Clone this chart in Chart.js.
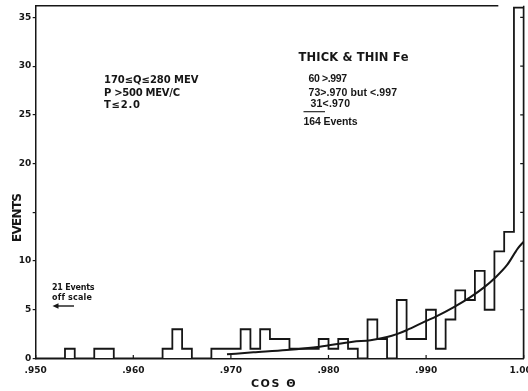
<!DOCTYPE html>
<html>
<head>
<meta charset="utf-8">
<script src="https://cdn.jsdelivr.net/npm/chart.js@4/dist/chart.umd.min.js"></script>
<style>
  html, body { margin: 0; padding: 0; background: #ffffff; }
  #wrap { width: 528px; height: 391px; }
</style>
</head>
<body>
<div id="wrap"><canvas id="c" width="528" height="391"></canvas></div>
<script>
// cos θ bins, width 0.001: lower edge of each bin and the events counted in it
const binLow = [
  0.950, 0.951, 0.952, 0.953, 0.954, 0.955, 0.956, 0.957, 0.958, 0.959,
  0.960, 0.961, 0.962, 0.963, 0.964, 0.965, 0.966, 0.967, 0.968, 0.969,
  0.970, 0.971, 0.972, 0.973, 0.974, 0.975, 0.976, 0.977, 0.978, 0.979,
  0.980, 0.981, 0.982, 0.983, 0.984, 0.985, 0.986, 0.987, 0.988, 0.989,
  0.990, 0.991, 0.992, 0.993, 0.994, 0.995, 0.996, 0.997, 0.998, 0.999
];
const counts = [
  0, 0, 0, 1, 0, 0, 1, 1, 0, 0,
  0, 0, 0, 1, 3, 1, 0, 0, 1, 1,
  1, 3, 1, 3, 2, 2, 1, 1, 1, 2,
  1, 2, 1, 0, 4, 2, 0, 6, 2, 2,
  5, 1, 4, 7, 6, 9, 5, 11, 13, 36
];
const binEnd = 1.000;

// expected distribution (smooth curve)
const fitX = [0.9696, 0.9723, 0.9757, 0.9791, 0.9825, 0.9843, 0.9860, 0.9870,
              0.9880, 0.9899, 0.9911, 0.9928, 0.9945, 0.9959, 0.9971, 0.9983,
              0.9994, 1.0000];
const fitY = [0.43, 0.63, 0.87, 1.21, 1.73, 1.88, 2.2, 2.5,
              2.9, 3.8, 4.35, 5.25, 6.27, 7.27, 8.32, 9.6,
              11.3, 12.0];

// axis ticks
const xTickValues = [0.95, 0.96, 0.97, 0.98, 0.99, 1.0];
const xTickLabels = ['.950', '.960', '.970', '.980', '.990', '1.000'];
const yTickValues = [0, 5, 10, 15, 20, 25, 30, 35];
const yTickLabels = ['0', '5', '10', '', '20', '25', '30', '35'];

const INK = '#161616';

const histPoints = binLow.map((x, i) => ({ x: x, y: counts[i] }));
histPoints.push({ x: binEnd, y: 0 });
const fitPoints = fitX.map((x, i) => ({ x: x, y: fitY[i] }));

// draws text so that it spans a given width, spreading the letters
function drawSpread(ctx, text, left, centerY, width, font) {
  ctx.save();
  ctx.font = font;
  ctx.fillStyle = INK;
  ctx.textBaseline = 'alphabetic';
  ctx.textAlign = 'left';
  const chars = Array.from(text);
  const widths = chars.map(ch => ctx.measureText(ch).width);
  const natural = widths.reduce((a, b) => a + b, 0);
  const gap = chars.length > 1 ? (width - natural) / (chars.length - 1) : 0;
  const cap = ctx.measureText('H').actualBoundingBoxAscent;
  const base = centerY + cap / 2;
  let x = left;
  chars.forEach((ch, i) => {
    ctx.fillText(ch, x, base);
    x += widths[i] + gap;
  });
  ctx.restore();
}

const decorations = {
  id: 'decorations',
  afterDraw(chart) {
    const { ctx, chartArea: a, scales: { x, y } } = chart;
    ctx.save();
    ctx.strokeStyle = INK;
    ctx.lineWidth = 1.5;
    ctx.lineCap = 'butt';

    // top and right frame lines
    ctx.beginPath();
    ctx.moveTo(a.left, a.top);
    ctx.lineTo(x.getPixelForValue(0.9974), a.top);
    ctx.moveTo(x.getPixelForValue(1.0), a.top);
    ctx.lineTo(x.getPixelForValue(1.0), a.bottom);
    ctx.stroke();

    // inward tick marks on the right frame and the bottom axis
    ctx.lineWidth = 1.2;
    ctx.beginPath();
    yTickValues.forEach(v => {
      if (v === 0) return;
      const py = y.getPixelForValue(v);
      ctx.moveTo(a.right - 3.5, py);
      ctx.lineTo(a.right, py);
    });
    xTickValues.forEach(v => {
      const px = x.getPixelForValue(v);
      ctx.moveTo(px, a.bottom);
      ctx.lineTo(px, a.bottom - 3.5);
    });
    ctx.stroke();

    // arrow pointing to the events below the scale
    ctx.lineWidth = 1.4;
    ctx.beginPath();
    ctx.moveTo(57, 306);
    ctx.lineTo(74, 306);
    ctx.stroke();
    ctx.fillStyle = INK;
    ctx.beginPath();
    ctx.moveTo(52.5, 306);
    ctx.lineTo(58.5, 303.2);
    ctx.lineTo(58.5, 308.8);
    ctx.closePath();
    ctx.fill();

    // underline of the last partial count
    ctx.lineWidth = 1.1;
    ctx.beginPath();
    ctx.moveTo(303.5, 111.7);
    ctx.lineTo(325, 111.7);
    ctx.stroke();
    ctx.restore();

    const right = "bold 10.5px 'Liberation Sans'";
    drawSpread(ctx, 'THICK & THIN Fe', 298.5, 56.2, 110, "bold 11.5px 'DejaVu Sans'");
    drawSpread(ctx, '60 >.997', 308.5, 78.3, 38.5, right);
    drawSpread(ctx, '73>.970 but <.997', 308.5, 91.7, 88.5, right);
    drawSpread(ctx, '31<.970', 310.5, 103.3, 39.5, right);
    drawSpread(ctx, '164 Events', 303.5, 120.7, 54, right);

    const left = "bold 10px 'DejaVu Sans'";
    drawSpread(ctx, '170≤Q≤280 MEV', 104, 79, 94.5, left);
    drawSpread(ctx, 'P >500 MEV/C', 104, 92.3, 76, left);
    drawSpread(ctx, 'T≤2.0', 104, 104.3, 36, left);

    drawSpread(ctx, '21 Events', 52, 286.7, 42.5, "bold 8px 'DejaVu Sans'");
    drawSpread(ctx, 'off scale', 52, 296.7, 40, "bold 8px 'DejaVu Sans'");

    // axis titles
    drawSpread(ctx, 'COS Θ', 251, 382.5, 44.5, "bold 11px 'DejaVu Sans'");
    ctx.save();
    ctx.translate(16.7, 217.5);
    ctx.rotate(-Math.PI / 2);
    drawSpread(ctx, 'EVENTS', -24.5, 0, 49, "bold 12px 'DejaVu Sans'");
    ctx.restore();
  }
};

new Chart(document.getElementById('c'), {
  type: 'line',
  data: {
    datasets: [
      {
        label: 'events',
        data: histPoints,
        stepped: 'before',
        borderColor: INK,
        borderWidth: 1.8,
        pointRadius: 0,
        fill: false
      },
      {
        label: 'expected',
        data: fitPoints,
        cubicInterpolationMode: 'monotone',
        borderColor: INK,
        borderWidth: 2,
        pointRadius: 0,
        fill: false
      }
    ]
  },
  options: {
    responsive: false,
    animation: false,
    devicePixelRatio: 1,
    layout: { padding: { top: 5.7, right: 4.3, left: 0, bottom: 0 } },
    plugins: { legend: { display: false }, tooltip: { enabled: false } },
    scales: {
      x: {
        type: 'linear',
        min: 0.95,
        max: 1.0,
        afterBuildTicks: s => { s.ticks = xTickValues.map(v => ({ value: v })); },
        afterFit: s => { s.height = 32.5; s.paddingLeft = 0; s.paddingRight = 0; },
        ticks: {
          autoSkip: false,
          maxRotation: 0,
          padding: 7,
          color: INK,
          font: { family: "'DejaVu Sans'", size: 9, weight: 'bold' },
          callback: (v, i) => xTickLabels[i]
        },
        grid: { display: false, drawTicks: false },
        border: { display: true, color: INK, width: 1.5 }
      },
      y: {
        type: 'linear',
        min: 0,
        max: 36.2,
        afterBuildTicks: s => { s.ticks = yTickValues.map(v => ({ value: v })); },
        afterFit: s => { s.width = 35.7; s.paddingTop = 0; s.paddingBottom = 0; },
        ticks: {
          autoSkip: false,
          padding: 1.5,
          color: INK,
          font: { family: "'DejaVu Sans'", size: 9, weight: 'bold' },
          callback: (v, i) => yTickLabels[i]
        },
        grid: { drawOnChartArea: false, drawTicks: true, tickLength: 3, color: INK, lineWidth: 1.2 },
        border: { display: true, color: INK, width: 1.5 }
      }
    }
  },
  plugins: [decorations]
});
</script>
</body>
</html>
